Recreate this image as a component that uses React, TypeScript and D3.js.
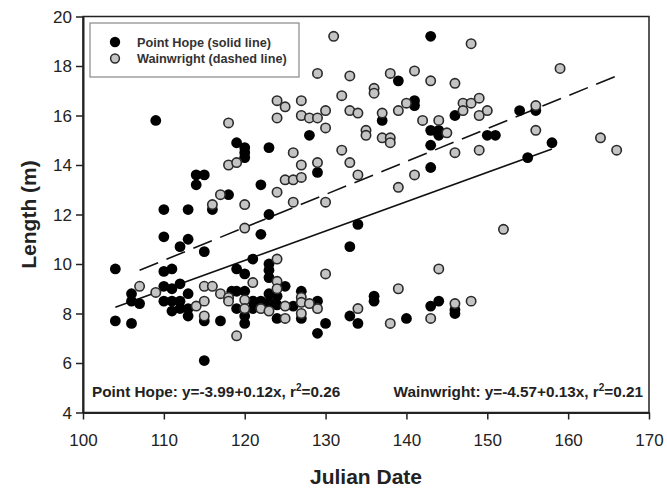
import React, { useEffect, useRef } from "react";
import * as d3 from "d3";

// Point Hope (black) [julian date, length]
const pointHope: [number, number][] = [
  [104, 9.8], [104, 7.7], [106, 8.8], [106, 8.5], [106, 7.6], [107, 8.4],
  [109, 15.8],
  [110, 12.2], [110, 11.1], [110, 9.7], [110, 9.1], [110, 8.5],
  [111, 9.8], [111, 9.0], [111, 8.5], [111, 8.1],
  [112, 10.7], [112, 9.2], [112, 8.5], [112, 8.2],
  [113, 12.2], [113, 11.0], [113, 8.8], [113, 8.2], [113, 7.9],
  [114, 13.6], [114, 13.2],
  [115, 13.6], [115, 10.5], [115, 7.7], [115, 6.1],
  [116, 12.2], [117, 7.7],
  [118, 12.8], [118.4, 8.9],
  [119, 14.9], [119, 9.8], [119, 8.9], [119, 8.2],
  [120, 14.7], [120, 14.5], [120, 14.3], [120, 9.6], [120, 8.9], [120, 7.9], [120, 7.6],
  [121, 10.2], [121, 8.5], [121, 8.2],
  [122, 13.2], [122, 11.2], [122, 8.5],
  [123, 14.7], [123, 12.0], [123, 10.0], [123, 9.75], [123, 9.45], [123, 8.8], [123, 8.45],
  [124, 8.7], [124, 8.35], [124, 7.8],
  [125, 9.1], [126, 8.3],
  [127, 8.9], [127, 7.8],
  [128, 15.2],
  [129, 13.7], [129, 8.5], [129, 7.2],
  [130, 7.6],
  [133, 10.7], [133, 7.9],
  [134, 11.6], [134, 7.6],
  [136, 8.7], [136, 8.5],
  [137, 15.8], [139, 17.4], [140, 7.8],
  [141, 16.6], [141, 16.4],
  [143, 19.2], [143, 15.4], [143, 14.8], [143, 13.9], [143, 8.3],
  [144, 15.4], [144, 15.2], [144, 8.5],
  [146, 16.0], [146, 8.15], [146, 8.0],
  [150, 15.2], [151, 15.2],
  [154, 16.2], [155, 14.3], [156, 16.2], [158, 14.9]
];

// Wainwright (grey)
const wainwright: [number, number][] = [
  [107, 9.1], [109, 8.85], [114, 8.3],
  [115, 9.1], [115, 8.5], [115, 7.9],
  [116, 12.4], [116, 9.1],
  [117, 12.8], [117, 8.8],
  [118, 15.7], [118, 14.0], [118, 8.65], [118, 8.5],
  [119, 14.1], [119, 7.1],
  [120, 12.4], [120, 11.45], [120, 8.55], [120, 8.2],
  [121, 9.25], [122, 8.2], [123, 8.1],
  [124, 16.6], [124, 15.9], [124, 12.9], [124, 10.2], [124, 9.3], [124, 9.0],
  [125, 16.35], [125, 13.4], [125, 8.3], [125, 7.8],
  [126, 14.5], [126, 13.4], [126, 12.5],
  [127, 16.6], [127, 16.0], [127, 14.0], [127, 13.5], [127, 8.65], [127, 8.45], [127, 8.0],
  [128, 15.9], [128, 8.4],
  [129, 17.7], [129, 15.9], [129, 14.1], [129, 8.2],
  [130, 16.2], [130, 15.5], [130, 12.5], [130, 9.6],
  [131, 19.2],
  [132, 16.8], [132, 14.6],
  [133, 17.6], [133, 16.2], [133, 14.1],
  [134, 16.1], [134, 13.6], [134, 8.2],
  [135, 15.4], [135, 15.2],
  [136, 17.1], [136, 16.9],
  [137, 16.1], [137, 15.1],
  [138, 17.7], [138, 15.1], [138, 14.9], [138, 7.6],
  [139, 16.2], [139, 13.1], [139, 9.0],
  [140, 16.5],
  [141, 17.8], [141, 13.6],
  [142, 15.8],
  [143, 17.4], [143, 7.8],
  [144, 15.8], [144, 9.8],
  [145, 15.3],
  [146, 17.3], [146, 14.5], [146, 8.4],
  [147, 16.5], [147, 16.2],
  [148, 18.9], [148, 16.5], [148, 8.5],
  [149, 16.7], [149, 16.0], [149, 14.6],
  [150, 16.2], [152, 11.4],
  [156, 16.4], [156, 15.4],
  [159, 17.9], [164, 15.1], [166, 14.6]
];

// regression lines as drawn (end points)
const fitHope: [number, number][] = [[104, 8.25], [158, 14.65]];
const fitWain: [number, number][] = [[107, 9.75], [166, 17.6]];

const xTicks = [100, 110, 120, 130, 140, 150, 160, 170];
const yTicks = [4, 6, 8, 10, 12, 14, 16, 18, 20];

const legendLabels = ["Point Hope (solid line)", "Wainwright (dashed line)"];
const eqHope = "Point Hope: y=-3.99+0.12x, r";
const eqWain = "Wainwright: y=-4.57+0.13x, r";
const r2Hope = "=0.26";
const r2Wain = "=0.21";

const FONT = "'Liberation Sans', Arial, sans-serif";

export default function App() {
  const chart = useRef<SVGSVGElement>(null);

  useEffect(() => {
    const margin = { top: 16.5, right: 18, bottom: 78.5, left: 83 };
    const W = 667, H = 491;
    const width = W - margin.left - margin.right;
    const height = H - margin.top - margin.bottom;

    const svg = d3.select(chart.current);
    svg.selectAll("*").remove();
    const g = svg.append("g").attr("transform", `translate(${margin.left},${margin.top})`);

    const x = d3.scaleLinear().domain([100, 170]).range([0, width]);
    const y = d3.scaleLinear().domain([4, 20]).range([height, 0]);

    // frame
    g.append("rect")
      .attr("width", width).attr("height", height)
      .attr("fill", "none").attr("stroke", "#222").attr("stroke-width", 1.5);

    // axes
    const xAxis = g.append("g")
      .attr("transform", `translate(0,${height})`)
      .call(d3.axisBottom(x).tickValues(xTicks).tickSize(7).tickSizeOuter(0));
    const yAxis = g.append("g")
      .call(d3.axisLeft(y).tickValues(yTicks).tickSize(7).tickSizeOuter(0));
    [xAxis, yAxis].forEach(a => {
      a.select(".domain").attr("stroke", "#222").attr("stroke-width", 2);
      a.selectAll(".tick line").attr("stroke", "#222").attr("stroke-width", 1.5);
      a.selectAll(".tick text")
        .attr("font-family", FONT).attr("font-size", 17).attr("fill", "#222");
    });
    xAxis.selectAll(".tick text").attr("dy", null).attr("y", 33);
    yAxis.selectAll(".tick text").attr("x", -11).attr("dy", "0.35em");

    const line = d3.line<[number, number]>().x(d => x(d[0])).y(d => y(d[1]));

    g.append("path").datum(fitHope).attr("d", line)
      .attr("fill", "none").attr("stroke", "#111").attr("stroke-width", 1.6);
    g.append("path").datum(fitWain).attr("d", line)
      .attr("fill", "none").attr("stroke", "#111").attr("stroke-width", 1.6)
      .attr("stroke-dasharray", "20,9");

    // points
    g.selectAll(".ph").data(pointHope).enter().append("circle")
      .attr("class", "ph")
      .attr("cx", d => x(d[0])).attr("cy", d => y(d[1]))
      .attr("r", 5.4).attr("fill", "#000");
    g.selectAll(".ww").data(wainwright).enter().append("circle")
      .attr("class", "ww")
      .attr("cx", d => x(d[0])).attr("cy", d => y(d[1]))
      .attr("r", 4.7).attr("fill", "#c4c4c4")
      .attr("stroke", "#2a2a2a").attr("stroke-width", 1.6);

    // legend
    const leg = svg.append("g").attr("transform", "translate(90,23)");
    leg.append("rect").attr("width", 209).attr("height", 54)
      .attr("fill", "#fff").attr("stroke", "#888").attr("stroke-width", 1.2);
    legendLabels.forEach((t, i) => {
      const cy = 19 + i * 16.5;
      if (i === 0) {
        leg.append("circle").attr("cx", 25).attr("cy", cy).attr("r", 5.2).attr("fill", "#000");
      } else {
        leg.append("circle").attr("cx", 25).attr("cy", cy).attr("r", 4.4)
          .attr("fill", "#c4c4c4").attr("stroke", "#2a2a2a").attr("stroke-width", 1.5);
      }
      leg.append("text").attr("x", 47).attr("y", cy + 4.5)
        .attr("font-family", FONT).attr("font-size", 12.7).attr("font-weight", "bold")
        .attr("fill", "#333").text(t);
    });

    // equations
    const eq = (tx: number, anchor: string, main: string, r2: string) => {
      const t = g.append("text").attr("x", tx).attr("y", height - 15.5)
        .attr("text-anchor", anchor)
        .attr("font-family", FONT).attr("font-size", 15.3).attr("font-weight", "bold")
        .attr("fill", "#222");
      t.append("tspan").text(main);
      t.append("tspan").attr("font-size", 10).attr("dy", -6).text("2");
      t.append("tspan").attr("dy", 6).text(r2);
    };
    eq(9, "start", eqHope, r2Hope);
    eq(width - 6, "end", eqWain, r2Wain);

    // axis titles
    svg.append("text")
      .attr("x", margin.left + width / 2).attr("y", 484)
      .attr("text-anchor", "middle")
      .attr("font-family", FONT).attr("font-size", 21).attr("font-weight", "bold")
      .attr("fill", "#222").text("Julian Date");
    svg.append("text")
      .attr("transform", `translate(36,${margin.top + height / 2}) rotate(-90)`)
      .attr("text-anchor", "middle")
      .attr("font-family", FONT).attr("font-size", 21).attr("font-weight", "bold")
      .attr("fill", "#222").text("Length (m)");

    return () => {
      svg.selectAll("*").remove();
    };
  }, []);

  return (
    <svg ref={chart} width={667} height={491}
      style={{ position: "absolute", left: 0, top: 0, background: "#fff" }} />
  );
}
